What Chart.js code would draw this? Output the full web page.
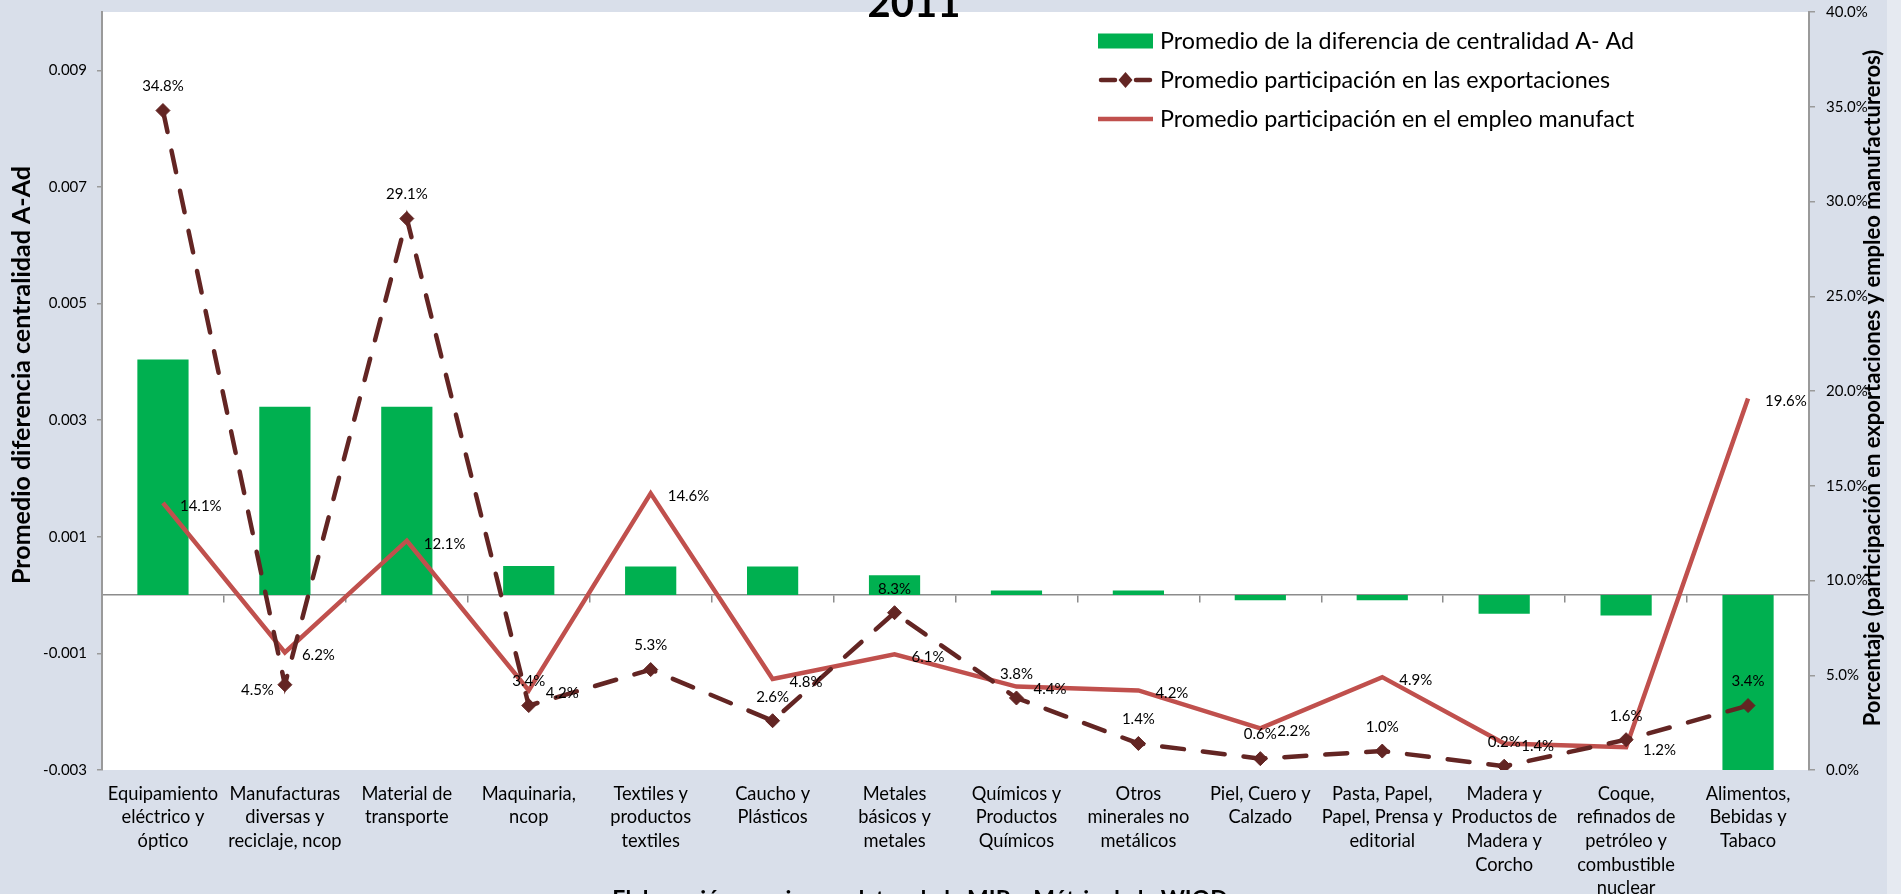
<!DOCTYPE html>
<html lang="es">
<head>
<meta charset="utf-8">
<title>Centralidad, exportaciones y empleo 2011</title>
<script src="https://cdn.jsdelivr.net/npm/chart.js@4.4.1/dist/chart.umd.min.js"></script>
<style>
  html, body { margin: 0; padding: 0; background: #e6eaf1; }
  canvas { display: block; }
</style>
</head>
<body>
<canvas id="grafico" width="1901" height="894"></canvas>
<script>
// sectores manufactureros
const sectores = [
  ["Equipamiento", "eléctrico y", "óptico"],
  ["Manufacturas", "diversas y", "reciclaje, ncop"],
  ["Material de", "transporte"],
  ["Maquinaria,", "ncop"],
  ["Textiles y", "productos", "textiles"],
  ["Caucho y", "Plásticos"],
  ["Metales", "básicos y", "metales"],
  ["Químicos y", "Productos", "Químicos"],
  ["Otros", "minerales no", "metálicos"],
  ["Piel, Cuero y", "Calzado"],
  ["Pasta, Papel,", "Papel, Prensa y", "editorial"],
  ["Madera y", "Productos de", "Madera y", "Corcho"],
  ["Coque,", "refinados de", "petróleo y", "combustible", "nuclear"],
  ["Alimentos,", "Bebidas y", "Tabaco"]
];

// promedio de la diferencia de centralidad A - Ad (eje izquierdo)
const difCentralidad = [0.00404, 0.00323, 0.00323, 0.0005, 0.00049, 0.00049, 0.00034,
  0.00008, 0.00008, -0.00009, -0.00009, -0.00032, -0.00035, -0.003];

// participación en exportaciones y en empleo manufacturero (%, eje derecho)
const partExportaciones = [34.8, 4.5, 29.1, 3.4, 5.3, 2.6, 8.3, 3.8, 1.4, 0.6, 1.0, 0.2, 1.6, 3.4];
const partEmpleo = [14.1, 6.2, 12.1, 4.2, 14.6, 4.8, 6.1, 4.4, 4.2, 2.2, 4.9, 1.4, 1.2, 19.6];

// marcas del eje izquierdo
const ticksIzq = [-0.003, -0.001, 0.001, 0.003, 0.005, 0.007, 0.009];

// lado de la etiqueta de exportaciones (arriba salvo Manufacturas)
const ladoEtiquetaExp = ['top', 'left', 'top', 'top', 'top', 'top', 'top', 'top', 'top', 'top', 'top', 'top', 'top', 'top'];

const VERDE = '#00B050';
const GRANATE = '#632523';
const ROJO = '#C0504D';
const GRIS_EJE = '#9a9a9a';

Chart.defaults.font.family = 'Lato, "Open Sans", sans-serif';
Chart.defaults.color = '#000';

const fondo = {
  id: 'fondo',
  beforeDraw(chart) {
    const { ctx, chartArea: a, width, height } = chart;
    ctx.save();
    ctx.fillStyle = '#d9dfea';
    ctx.fillRect(0, 0, width - 14, height);
    ctx.fillStyle = '#fff';
    ctx.fillRect(a.left, a.top, a.right - a.left, a.bottom - a.top);
    ctx.restore();
  }
};

const etiquetas = {
  id: 'etiquetas',
  afterDatasetsDraw(chart) {
    const ctx = chart.ctx;
    ctx.save();
    ctx.font = '15px Lato';
    ctx.fillStyle = '#000';
    ctx.textBaseline = 'middle';
    chart.data.datasets.forEach((ds, i) => {
      if (ds.type !== 'line') return;
      const meta = chart.getDatasetMeta(i);
      meta.data.forEach((p, j) => {
        const txt = ds.data[j].toFixed(1) + '%';
        if (ds.label.indexOf('exportaciones') >= 0) {
          if (ladoEtiquetaExp[j] === 'left') {
            ctx.textAlign = 'right';
            ctx.fillText(txt, p.x - 11, p.y + 5);
          } else {
            ctx.textAlign = 'center';
            ctx.fillText(txt, p.x, p.y - 24);
          }
        } else {
          ctx.textAlign = 'left';
          ctx.fillText(txt, p.x + 17, p.y + 3);
        }
      });
    });
    ctx.restore();
  }
};

const textos = {
  id: 'textos',
  afterDraw(chart) {
    const { ctx, chartArea: a } = chart;
    const medio = (a.top + a.bottom) / 2;
    ctx.save();
    ctx.fillStyle = '#000';

    // titulos de los ejes
    ctx.textAlign = 'center';
    ctx.textBaseline = 'middle';
    ctx.font = 'bold 25px Lato';
    ctx.save();
    ctx.translate(22, medio - 16);
    ctx.rotate(-Math.PI / 2);
    ctx.fillText('Promedio diferencia centralidad A-Ad', 0, 0);
    ctx.restore();
    ctx.font = 'bold 22px Lato';
    ctx.save();
    ctx.translate(a.right + 64, medio - 3);
    ctx.rotate(-Math.PI / 2);
    ctx.fillText('Porcentaje (participación en exportaciones y empleo manufactureros)', 0, 0);
    ctx.restore();

    // titulo y fuente
    ctx.textBaseline = 'alphabetic';
    ctx.font = 'bold 40px Lato';
    ctx.fillText('2011', 914, 17);
    ctx.font = 'bold 23px Lato';
    ctx.fillText('Elaboración propia con datos de la MIP y Mátrix de la WIOD', 920, 907);

    // leyenda
    const lx = 1098, lw = 55, tx = 1160;
    const filas = [41, 80, 119];
    ctx.fillStyle = VERDE;
    ctx.fillRect(lx, filas[0] - 7.5, lw, 15);

    ctx.strokeStyle = GRANATE;
    ctx.lineWidth = 4.5;
    ctx.lineCap = 'round';
    ctx.beginPath();
    ctx.moveTo(lx + 3, filas[1]); ctx.lineTo(lx + 17, filas[1]);
    ctx.moveTo(lx + 38, filas[1]); ctx.lineTo(lx + 52, filas[1]);
    ctx.stroke();
    ctx.fillStyle = GRANATE;
    ctx.beginPath();
    ctx.moveTo(lx + 27.5, filas[1] - 8);
    ctx.lineTo(lx + 34.5, filas[1]);
    ctx.lineTo(lx + 27.5, filas[1] + 8);
    ctx.lineTo(lx + 20.5, filas[1]);
    ctx.closePath();
    ctx.fill();

    ctx.strokeStyle = ROJO;
    ctx.lineCap = 'butt';
    ctx.beginPath();
    ctx.moveTo(lx, filas[2]); ctx.lineTo(lx + lw, filas[2]);
    ctx.stroke();

    ctx.fillStyle = '#000';
    ctx.font = '23.3px Lato';
    ctx.textAlign = 'left';
    ctx.textBaseline = 'middle';
    ctx.fillText('Promedio de la diferencia de centralidad A- Ad', tx, filas[0]);
    ctx.fillText('Promedio participación en las exportaciones', tx, filas[1]);
    ctx.fillText('Promedio participación en el empleo manufact', tx, filas[2]);
    ctx.restore();
  }
};

function sinRelleno(scale) {
  scale.paddingTop = 0;
  scale.paddingBottom = 0;
  scale.paddingLeft = 0;
  scale.paddingRight = 0;
}

function dibujar() {
  new Chart(document.getElementById('grafico'), {
    type: 'bar',
    data: {
      labels: sectores,
      datasets: [
        {
          type: 'line',
          label: 'Promedio participación en las exportaciones',
          data: partExportaciones,
          yAxisID: 'y1',
          order: 0,
          borderColor: GRANATE,
          backgroundColor: GRANATE,
          borderWidth: 4.5,
          borderDash: [22, 19],
          borderCapStyle: 'round',
          tension: 0,
          fill: false,
          pointStyle: 'rectRot',
          pointRadius: 7,
          pointBorderWidth: 1,
          pointBorderColor: GRANATE,
          pointBackgroundColor: GRANATE
        },
        {
          type: 'line',
          label: 'Promedio participación en el empleo manufact',
          data: partEmpleo,
          yAxisID: 'y1',
          order: 1,
          borderColor: ROJO,
          backgroundColor: ROJO,
          borderWidth: 4.5,
          tension: 0,
          fill: false,
          pointRadius: 0
        },
        {
          type: 'bar',
          label: 'Promedio de la diferencia de centralidad A- Ad',
          data: difCentralidad,
          yAxisID: 'y',
          order: 2,
          backgroundColor: VERDE,
          borderWidth: 0,
          categoryPercentage: 1,
          barPercentage: 0.42
        }
      ]
    },
    options: {
      responsive: false,
      maintainAspectRatio: false,
      devicePixelRatio: 1,
      animation: false,
      layout: { padding: { top: 12, left: 0, right: 0, bottom: 0 } },
      plugins: {
        legend: { display: false },
        title: { display: false },
        tooltip: { enabled: false }
      },
      scales: {
        x: {
          position: 'bottom',
          offset: true,
          grid: { display: false },
          border: { display: false },
          ticks: {
            autoSkip: false,
            maxRotation: 0,
            minRotation: 0,
            padding: 4,
            color: '#000',
            font: { size: 18.3, lineHeight: 1.29 }
          },
          afterFit(scale) {
            scale.height = 124;
            sinRelleno(scale);
          }
        },
        x2: {
          type: 'category',
          position: { y: 0 },
          offset: true,
          grid: {
            offset: true,
            drawOnChartArea: false,
            drawTicks: true,
            tickLength: 7,
            color: '#8c8c8c',
            lineWidth: 1.5
          },
          border: { display: true, color: '#8c8c8c', width: 1.5 },
          ticks: { display: false }
        },
        y: {
          position: 'left',
          min: -0.003,
          max: 0.010,
          grid: {
            drawOnChartArea: false,
            drawTicks: true,
            tickLength: 5,
            color: GRIS_EJE,
            lineWidth: 1.5
          },
          border: { display: true, color: GRIS_EJE, width: 2 },
          ticks: {
            padding: 10,
            color: '#000',
            font: { size: 15 },
            callback: (v) => Number(v).toFixed(3)
          },
          afterBuildTicks(scale) {
            scale.ticks = ticksIzq.map(v => ({ value: v }));
          },
          afterFit(scale) {
            scale.width = 102;
            sinRelleno(scale);
          }
        },
        y1: {
          position: 'right',
          min: 0,
          max: 40,
          grid: {
            drawOnChartArea: false,
            drawTicks: true,
            tickLength: 6,
            color: GRIS_EJE,
            lineWidth: 1.5
          },
          border: { display: true, color: GRIS_EJE, width: 2 },
          ticks: {
            stepSize: 5,
            padding: 11,
            color: '#000',
            font: { size: 15 },
            callback: (v) => Number(v).toFixed(1) + '%'
          },
          afterFit(scale) {
            scale.width = 92;
            sinRelleno(scale);
          }
        }
      }
    },
    plugins: [fondo, etiquetas, textos]
  });
}

Promise.all([
  document.fonts.load('15px Lato'),
  document.fonts.load('bold 24px Lato')
]).then(dibujar, dibujar);
</script>
</body>
</html>
